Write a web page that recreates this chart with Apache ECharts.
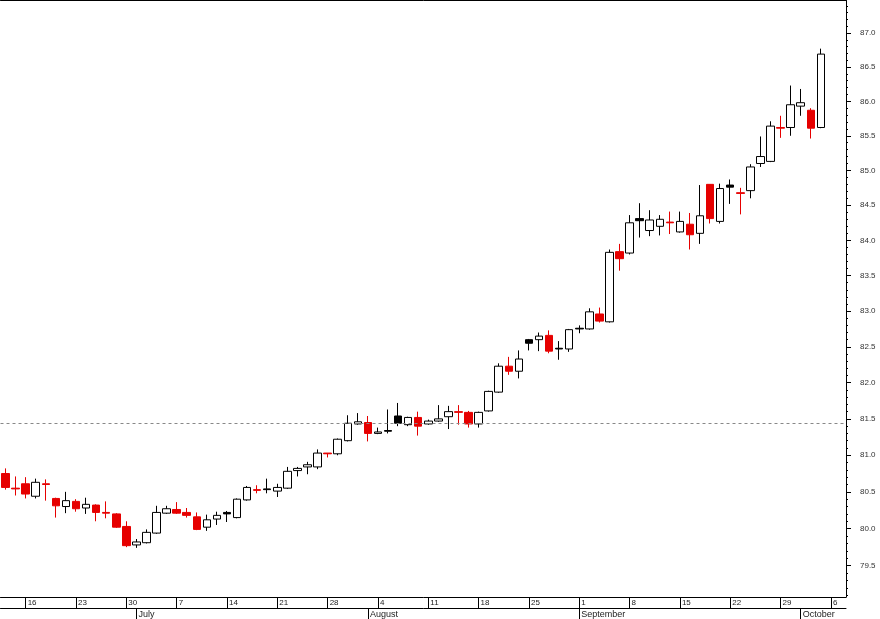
<!DOCTYPE html>
<html>
<head>
<meta charset="utf-8">
<script src="https://cdn.jsdelivr.net/npm/echarts@6/dist/echarts.min.js"></script>
<style>
html, body { margin: 0; padding: 0; background: #fff; }
#chart { width: 880px; height: 619px; }
</style>
</head>
<body>
<div id="chart"></div>
<script>
// trading days: weekdays from 12 June, last two (6, 7 Oct) are empty
var firstDay = '2014-06-12';
var dayCount = 84;
var prevClose = 80.80; // close of the day before the first candle

var openVals = [
    80.75, 80.55, 80.61, 80.44, 80.61, 80.41, 80.30, 80.37, 80.28, 80.32,
    80.22, 80.20, 80.03, 79.78, 79.81, 79.94, 80.21, 80.26, 80.22, 80.16,
    80.02, 80.13, 80.22, 80.15, 80.39, 80.53, 80.54, 80.51, 80.55, 80.79,
    80.84, 80.84, 81.03, 81.02, 81.20, 81.43, 81.45, 81.30, 81.34, 81.54,
    81.42, 81.52, 81.43, 81.47, 81.53, 81.60, 81.59, 81.43, 81.61, 81.87,
    82.23, 82.16, 82.60, 82.60, 82.66, 82.48, 82.47, 82.76, 82.75, 82.96,
    82.85, 83.84, 83.82, 84.31, 84.14, 84.20, 84.26, 84.12, 84.23, 84.10,
    84.80, 84.27, 84.79, 84.68, 84.71, 85.10, 85.13, 85.62, 85.62, 85.93,
    85.87, 85.62
];
var closeVals = [
    80.56, 80.54, 80.47, 80.63, 80.60, 80.31, 80.38, 80.27, 80.33, 80.22,
    80.21, 80.02, 79.77, 79.82, 79.95, 80.22, 80.27, 80.21, 80.18, 79.99,
    80.12, 80.18, 80.20, 80.40, 80.56, 80.52, 80.53, 80.56, 80.78, 80.82,
    80.87, 81.03, 81.02, 81.22, 81.44, 81.46, 81.30, 81.32, 81.33, 81.44,
    81.52, 81.40, 81.47, 81.50, 81.60, 81.59, 81.43, 81.59, 81.88, 82.23,
    82.16, 82.33, 82.55, 82.65, 82.44, 82.47, 82.74, 82.75, 82.99, 82.86,
    83.83, 83.74, 84.25, 84.28, 84.29, 84.30, 84.25, 84.27, 84.08, 84.35,
    84.31, 84.74, 84.76, 84.67, 85.05, 85.20, 85.64, 85.61, 85.95, 85.98,
    85.61, 86.69
];
var lowVals = [
    80.53, 80.45, 80.41, 80.41, 80.38, 80.15, 80.21, 80.23, 80.20, 80.10,
    80.14, 80.01, 79.75, 79.74, 79.80, 79.93, 80.20, 80.20, 80.15, 79.98,
    79.97, 80.05, 80.09, 80.14, 80.38, 80.48, 80.48, 80.43, 80.54, 80.71,
    80.74, 80.81, 80.97, 81.00, 81.19, 81.42, 81.19, 81.29, 81.30, 81.40,
    81.40, 81.27, 81.42, 81.46, 81.36, 81.42, 81.38, 81.38, 81.60, 81.86,
    82.11, 82.06, 82.45, 82.44, 82.41, 82.32, 82.43, 82.69, 82.74, 82.84,
    82.84, 83.57, 83.80, 84.04, 84.06, 84.07, 84.09, 84.11, 83.87, 83.95,
    84.24, 84.24, 84.52, 84.37, 84.60, 85.05, 85.12, 85.47, 85.50, 85.79,
    85.46, 85.61
];
var highVals = [
    80.82, 80.71, 80.70, 80.68, 80.67, 80.42, 80.50, 80.40, 80.42, 80.33,
    80.37, 80.21, 80.10, 79.86, 79.99, 80.31, 80.31, 80.36, 80.28, 80.22,
    80.19, 80.23, 80.24, 80.41, 80.58, 80.59, 80.68, 80.61, 80.84, 80.84,
    80.91, 81.08, 81.03, 81.23, 81.55, 81.58, 81.54, 81.38, 81.63, 81.72,
    81.53, 81.60, 81.49, 81.69, 81.68, 81.69, 81.61, 81.60, 81.89, 82.27,
    82.36, 82.45, 82.61, 82.70, 82.73, 82.58, 82.75, 82.80, 83.04, 83.05,
    83.87, 83.95, 84.36, 84.53, 84.43, 84.36, 84.41, 84.41, 84.39, 84.79,
    84.80, 84.81, 84.87, 84.75, 85.09, 85.49, 85.71, 85.79, 86.23, 86.18,
    85.90, 86.77
];

var priceLabels = [79.5, 80.0, 80.5, 81.0, 81.5, 82.0, 82.5, 83.0, 83.5, 84.0, 84.5, 85.0, 85.5, 86.0, 86.5, 87.0];
var monthNames = ['January', 'February', 'March', 'April', 'May', 'June', 'July',
    'August', 'September', 'October', 'November', 'December'];
var refLevel = 81.44;

var upColor = '#000000';
var downColor = '#e60000';

// weekday categories
var dates = [];
var d = new Date(firstDay + 'T00:00:00Z');
while (dates.length < dayCount) {
    var wd = d.getUTCDay();
    if (wd !== 0 && wd !== 6) dates.push(d.toISOString().slice(0, 10));
    d.setUTCDate(d.getUTCDate() + 1);
}
function dayOf(s) { return new Date(s + 'T00:00:00Z'); }
function isMonday(i, v) { return dayOf(v).getUTCDay() === 1; }
function isMonthStart(i, v) {
    return i > 0 && dayOf(v).getUTCMonth() !== dayOf(dates[i - 1]).getUTCMonth();
}

// minor ticks every 0.1
var minorTicks = [];
for (var t = 791; t <= 874; t++) minorTicks.push(t / 10);

// hollow = close above open, colour = close against previous close
var candles = dates.map(function (s, i) {
    if (i >= openVals.length) return '-';
    var o = openVals[i], c = closeVals[i];
    var before = i === 0 ? prevClose : closeVals[i - 1];
    var col = c >= before ? upColor : downColor;
    var fill = c < o ? col : '#ffffff';
    return {
        value: [o, c, lowVals[i], highVals[i]],
        itemStyle: { color: fill, color0: fill, borderColor: col, borderColor0: col }
    };
});

var chart = echarts.init(document.getElementById('chart'));

var option = {
    animation: false,
    backgroundColor: '#fff',
    textStyle: { fontFamily: 'Liberation Sans, Arial, sans-serif' },
    grid: { left: 0.5, right: 34, top: 0.5, bottom: 22 },
    xAxis: [{
        type: 'category',
        data: dates,
        boundaryGap: true,
        axisLine: { show: true, lineStyle: { color: '#000' } },
        axisTick: {
            show: true, alignWithLabel: true, length: 11,
            lineStyle: { color: '#000' },
            interval: isMonday
        },
        axisLabel: {
            interval: isMonday,
            formatter: function (v) { return String(dayOf(v).getUTCDate()); },
            align: 'left', padding: [0, 0, 0, 2], margin: 2,
            fontSize: 8, color: '#222'
        },
        splitLine: { show: false }
    }, {
        type: 'category',
        data: dates,
        position: 'bottom',
        offset: 11,
        boundaryGap: true,
        axisLine: { show: true, lineStyle: { color: '#000' } },
        axisTick: {
            show: true, alignWithLabel: true, length: 11,
            lineStyle: { color: '#000' },
            interval: isMonthStart
        },
        axisLabel: {
            interval: isMonthStart,
            formatter: function (v) { return monthNames[dayOf(v).getUTCMonth()]; },
            align: 'left', padding: [0, 0, 0, 2], margin: 2,
            fontSize: 9, color: '#222'
        },
        splitLine: { show: false }
    }, {
        // top border of the plot
        type: 'category',
        data: dates,
        position: 'top',
        axisLine: { show: true, lineStyle: { color: '#000' } },
        axisTick: { show: false },
        axisLabel: { show: false },
        splitLine: { show: false }
    }],
    yAxis: [{
        type: 'log',
        logBase: 10,
        position: 'right',
        min: 79.08,
        max: 87.48,
        axisLine: { show: true, lineStyle: { color: '#000' } },
        axisTick: { show: true, length: 5, customValues: priceLabels, lineStyle: { color: '#000' } },
        axisLabel: {
            customValues: priceLabels,
            formatter: function (v) { return Number(v).toFixed(1); },
            margin: 14, fontSize: 8, color: '#333'
        },
        splitLine: { show: false }
    }, {
        type: 'log',
        logBase: 10,
        position: 'right',
        min: 79.08,
        max: 87.48,
        axisLine: { show: false },
        axisTick: { show: true, length: 2, customValues: minorTicks, lineStyle: { color: '#000' } },
        axisLabel: { show: false },
        splitLine: { show: false }
    }],
    series: [{
        type: 'candlestick',
        xAxisIndex: 0,
        yAxisIndex: 0,
        barWidth: 8,
        data: candles,
        itemStyle: { borderWidth: 1 },
        markLine: {
            silent: true,
            symbol: ['none', 'none'],
            label: { show: false },
            lineStyle: { color: '#888', type: [3, 3], width: 1 },
            data: [{ yAxis: refLevel }]
        }
    }]
};

chart.setOption(option);
</script>
</body>
</html>
